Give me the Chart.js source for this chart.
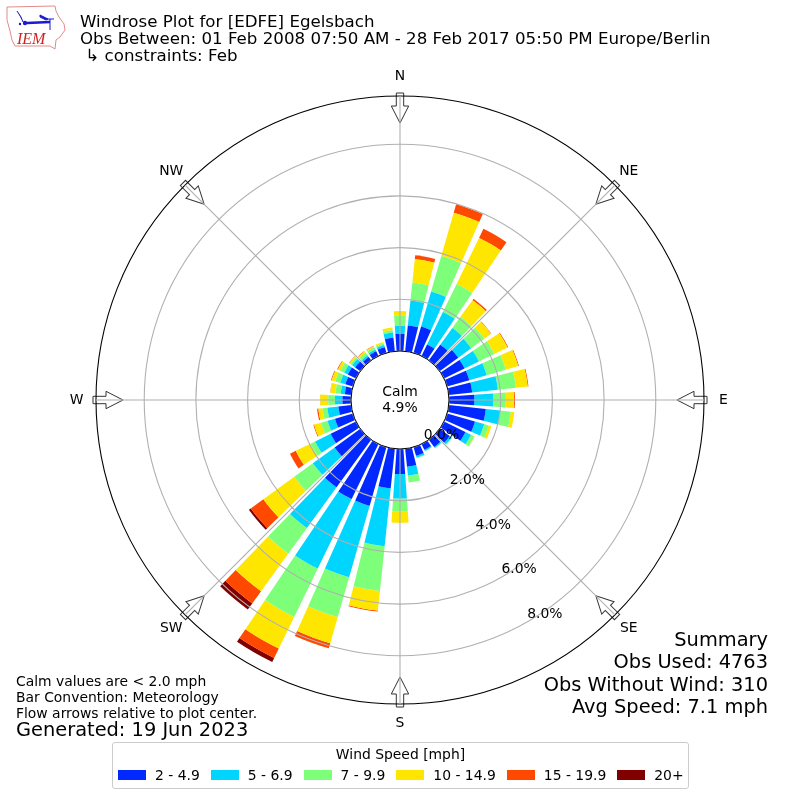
<!DOCTYPE html>
<html>
<head>
<meta charset="utf-8">
<title>Windrose Plot for [EDFE] Egelsbach</title>
<script src="https://cdn.jsdelivr.net/npm/chart.js@4/dist/chart.umd.js"></script>
<style>
  html, body { margin: 0; padding: 0; background: #fff; }
  body { position: relative; width: 800px; height: 800px; overflow: hidden; font-family: "DejaVu Sans", sans-serif; color: #000; }
  #rose { position: absolute; left: 0; top: 0; }
  .txt { position: absolute; white-space: pre; line-height: 1; }
  #title { left: 80px; top: 13px; font-size: 16.67px; line-height: 17px; }
  #notes { left: 16px; top: 673px; font-size: 13.9px; line-height: 16px; }
  #generated { left: 16px; top: 720px; font-size: 19.4px; }
  #summary { right: 32px; top: 629px; font-size: 19.4px; line-height: 22.3px; text-align: right; }
  #legend { position: absolute; left: 112px; top: 742px; width: 575px; height: 45px; border: 1px solid #ccc; border-radius: 3px; font-size: 13.9px; }
  #legend .head { position: absolute; left: 0; right: 0; top: 4px; text-align: center; line-height: 14px; }
  #legend .row { position: absolute; left: 5px; top: 25px; display: flex; align-items: center; height: 14px; white-space: pre; }
  #legend i { display: block; width: 28px; height: 10px; margin-right: 9px; }
  #legend span { margin-right: 11px; }
  #logo { position: absolute; left: 0; top: 0; }
</style>
</head>
<body>
<canvas id="rose" width="800" height="800"></canvas>
<svg id="logo" width="70" height="54" viewBox="0 0 70 54">
  <path d="M7 7 L55 6 L56 11 L59 17 L64 24 L65 30 L60 37 L56 40 L55 49 L50 46 L15 46 L12 40 L10 31 L7 20 Z" fill="none" stroke="#e58a8a" stroke-width="1"/>
  <path d="M27 23 L50 22" stroke="#1a1ad0" stroke-width="2.4" fill="none"/>
  <path d="M40 15 L48 19 L46 20 L40 17 Z M17 11 L21 17 L23 22 M50 19 L50 30 M54 19 L46 19" stroke="#1a1ad0" stroke-width="1" fill="#1a1ad0"/>
  <circle cx="25" cy="23" r="2.2" fill="#1a1ad0"/>
  <circle cx="20" cy="24" r="1.2" fill="#1a1ad0"/>
  <text x="17" y="44" font-family="Liberation Serif" font-style="italic" font-size="16" fill="#d42020">IEM</text>
</svg>
<div class="txt" id="title">Windrose Plot for [EDFE] Egelsbach
Obs Between: 01 Feb 2008 07:50 AM - 28 Feb 2017 05:50 PM Europe/Berlin
 ↳ constraints: Feb</div>
<div class="txt" id="notes">Calm values are &lt; 2.0 mph
Bar Convention: Meteorology
Flow arrows relative to plot center.</div>
<div class="txt" id="generated">Generated: 19 Jun 2023</div>
<div class="txt" id="summary">Summary
Obs Used: 4763
Obs Without Wind: 310
Avg Speed: 7.1 mph</div>
<div id="legend"><div class="head">Wind Speed [mph]</div><div class="row"></div></div>

<script>
// wind direction of each bar, degrees
const directions = [0, 10, 20, 30, 40, 50, 60, 70, 80, 90, 100, 110, 120, 130, 140, 150, 160, 170,
  180, 190, 200, 210, 220, 230, 240, 250, 260, 270, 280, 290, 300, 310, 320, 330, 340, 350];
const compass = ['N', 'NE', 'E', 'SE', 'S', 'SW', 'W', 'NW'];
const tickValues = [0, 2, 4, 6, 8];
const speedBins = ['2 - 4.9', '5 - 6.9', '7 - 9.9', '10 - 14.9', '15 - 19.9', '20+'];
const binColors = ['#0028ff', '#00d5ff', '#7dff7a', '#ffe600', '#ff4800', '#800000'];

const speed2to5 = [.66, 1.0, 1.06, .49, .75, .89, .88, .89, .91, .98, 1.44, 1.12, .92, .48, .35, .25, .35, .70,
  .97, 1.54, 2.36, 2.37, 2.28, 1.23, 1.09, .72, .50, .33, .25, .30, .35, .25, .16, .20, .23, .53];
const speed5to7 = [.31, .97, 1.41, 1.40, .80, .62, .62, .70, 1.0, .73, .57, .37, .24, .09, .05, .05, .07, .34,
  .94, 2.25, 2.88, 2.99, 1.95, 1.04, .67, .30, .43, .29, .16, .20, .15, .14, .08, .08, .09, .20];
const speed7to10 = [.39, .70, 1.43, 1.21, .53, .62, .66, .77, .70, .49, .40, .18, .14, .03, .01, .01, .03, .27,
  .51, 1.74, 1.60, 2.08, 1.22, .89, .20, .26, .19, .26, .21, .21, .17, .08, .12, .09, .06, .09];
const speed10to15 = [.19, .91, 1.74, 1.98, .80, .32, .57, .50, .46, .31, .14, .11, .02, 0, 0, 0, 0, 0,
  .43, .76, 1.05, 1.36, 1.80, 1.48, .63, .28, .16, .31, .19, .14, .11, .05, .07, .05, .06, .10];
const speed15to20 = [0, .15, .34, .39, .06, .02, .03, .03, .03, .04, 0, 0, 0, 0, 0, 0, 0, 0,
  0, .04, .21, .41, .58, .60, .25, .03, .05, .01, .01, .03, .03, .02, .02, .02, 0, 0];
const speed20up = [0, 0, 0, 0, 0, 0, 0, 0, 0, 0, 0, 0, 0, 0, 0, 0, 0, 0,
  0, 0, 0, .17, .29, .09, 0, 0, 0, 0, 0, 0, 0, 0, 0, 0, 0, 0];
const binSeries = [speed2to5, speed5to7, speed7to10, speed10to15, speed15to20, speed20up];

const rMin = -1.896;
const rMax = 9.865;
const barWidth = 8; // degrees
const gridGray = '#b0b0b0';

const toRad = (deg) => deg * Math.PI / 180;

// polar area, but bars stack on the datasets before them and keep a gap
class WindRoseController extends Chart.PolarAreaController {
  static id = 'windrose';
  static defaults = Chart.PolarAreaController.defaults;

  updateElements (arcs, start, count, mode) {
    super.updateElements(arcs, start, count, mode);
    const scale = this.chart.scales.r;
    const sets = this.chart.data.datasets;
    for (let i = start; i < start + count; i++) {
      let base = 0;
      for (let d = 0; d < this.index; d++) {
        base += sets[d].data[i];
      }
      const mid = toRad(directions[i]) - Math.PI / 2;
      this.updateElement(arcs[i], i, {
        startAngle: mid - toRad(barWidth / 2),
        endAngle: mid + toRad(barWidth / 2),
        innerRadius: scale.getDistanceFromCenterForValue(base),
        outerRadius: scale.getDistanceFromCenterForValue(base + sets[this.index].data[i])
      }, mode);
    }
  }
}
Chart.register(WindRoseController);

const roseExtras = {
  id: 'roseExtras',
  // under the grid, the line shows through the arrow
  afterDatasetsDraw (chart) {
    const scale = chart.scales.r;
    const ctx = chart.ctx;
    ctx.save();
    compass.forEach((name, i) => {
      ctx.save();
      ctx.translate(scale.xCenter, scale.yCenter);
      ctx.rotate(toRad(i * 45));
      ctx.beginPath();
      ctx.moveTo(-3.7, -307);
      ctx.lineTo(3.7, -307);
      ctx.lineTo(3.7, -294);
      ctx.lineTo(8.7, -294);
      ctx.lineTo(0, -277);
      ctx.lineTo(-8.7, -294);
      ctx.lineTo(-3.7, -294);
      ctx.closePath();
      ctx.fillStyle = '#fff';
      ctx.fill();
      ctx.strokeStyle = '#333';
      ctx.lineWidth = 1;
      ctx.stroke();
      ctx.restore();
    });
    ctx.restore();
  },
  afterDraw (chart) {
    const scale = chart.scales.r;
    const ctx = chart.ctx;
    const cx = scale.xCenter;
    const cy = scale.yCenter;
    ctx.save();
    // calm hole
    ctx.beginPath();
    ctx.arc(cx, cy, scale.getDistanceFromCenterForValue(0), 0, Math.PI * 2);
    ctx.fillStyle = '#fff';
    ctx.fill();
    ctx.strokeStyle = '#000';
    ctx.lineWidth = 1;
    ctx.stroke();

    ctx.font = '13.9px "DejaVu Sans"';
    ctx.fillStyle = '#000';
    ctx.textAlign = 'center';
    ctx.textBaseline = 'middle';
    ctx.fillText('Calm', cx, cy - 8);
    ctx.fillText('4.9%', cx, cy + 8);

    compass.forEach((name, i) => {
      const p = scale.getPointPosition(i, 323.5);
      ctx.fillText(name, p.x, p.y);
    });
    // tick labels run along the 150 degree line
    tickValues.forEach((v) => {
      const a = toRad(150 - 90);
      const d = scale.getDistanceFromCenterForValue(v);
      ctx.fillText(v.toFixed(1) + '%', cx + d * Math.cos(a) + 17, cy + d * Math.sin(a) - 7);
    });
    ctx.restore();
  }
};

new Chart(document.getElementById('rose').getContext('2d'), {
  type: 'windrose',
  data: {
    labels: directions,
    datasets: binSeries.map((values, i) => ({
      label: speedBins[i],
      data: values,
      backgroundColor: binColors[i],
      borderWidth: 0
    }))
  },
  options: {
    responsive: false,
    devicePixelRatio: 1,
    animation: false,
    layout: { padding: 96 },
    plugins: { legend: { display: false }, tooltip: { enabled: false } },
    scales: {
      r: {
        type: 'radialLinear',
        labels: compass,
        min: rMin,
        max: rMax,
        startAngle: 0,
        afterBuildTicks (scale) {
          scale.ticks = tickValues.concat(rMax).map((value) => ({ value }));
        },
        ticks: { display: false },
        pointLabels: { display: false },
        angleLines: { display: true, color: gridGray, lineWidth: 1.1 },
        grid: {
          circular: true,
          z: 1,
          lineWidth: 1.1,
          color: (ctx) => ctx.tick.value === rMax ? '#000' : gridGray
        }
      }
    }
  },
  plugins: [roseExtras]
});

const legendRow = document.querySelector('#legend .row');
speedBins.forEach((name, i) => {
  const swatch = document.createElement('i');
  swatch.style.background = binColors[i];
  const label = document.createElement('span');
  label.textContent = name;
  legendRow.append(swatch, label);
});
</script>
</body>
</html>
